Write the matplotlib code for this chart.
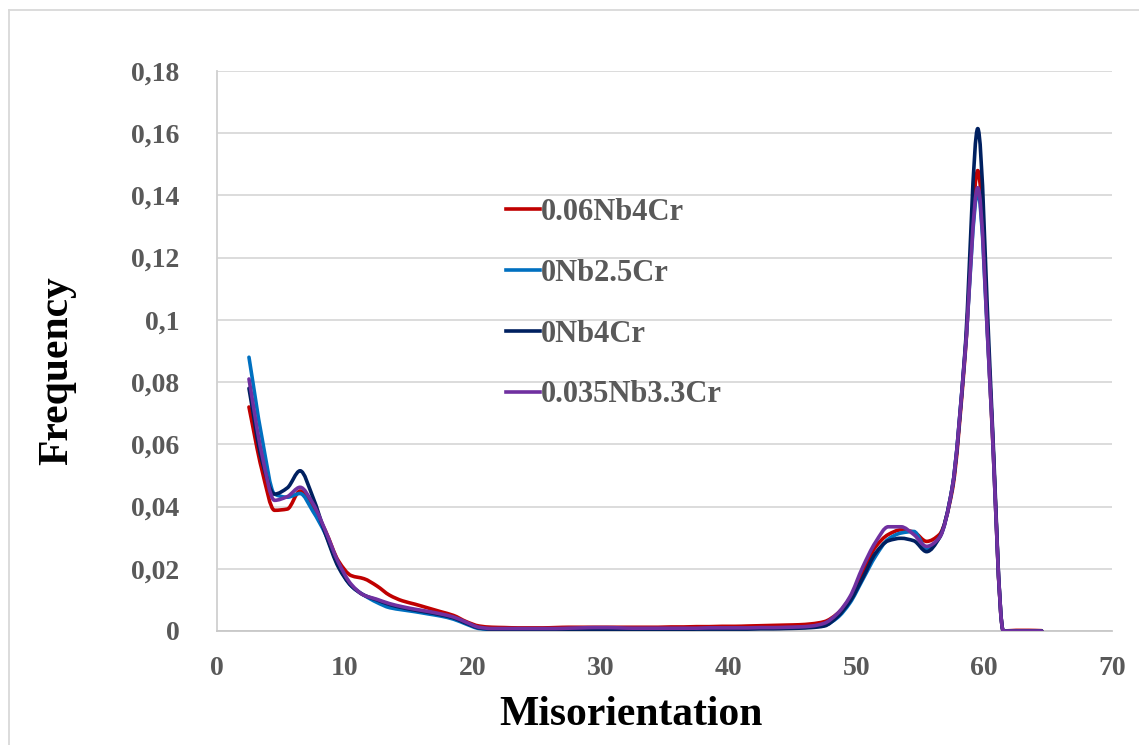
import numpy as np
import matplotlib
matplotlib.use("Agg")
import matplotlib.pyplot as plt
from matplotlib.path import Path
from matplotlib.patches import PathPatch
from matplotlib.lines import Line2D
from matplotlib.ticker import FuncFormatter, MultipleLocator

# ---------------- data ----------------
misorientation = [2.5, 3.5, 4.5, 5.5, 6.5, 7.5, 8.5, 9.5, 10.5, 11.5,
                  12.5, 13.5, 14.5, 15.5, 16.5, 17.5, 18.5, 19.5, 20.5, 21.5,
                  22.5, 23.5, 24.5, 25.5, 26.5, 27.5, 28.5, 29.5, 30.5, 31.5,
                  32.5, 33.5, 34.5, 35.5, 36.5, 37.5, 38.5, 39.5, 40.5, 41.5,
                  42.5, 43.5, 44.5, 45.5, 46.5, 47.5, 48.5, 49.5, 50.5, 51.5,
                  52.5, 53.5, 54.5, 55.5, 56.5, 57.5, 58.5, 59.5, 60.5, 61.5,
                  62.5, 63.5, 64.5]

series_names = ["0.06Nb4Cr", "0Nb2.5Cr", "0Nb4Cr", "0.035Nb3.3Cr"]

freq_006Nb4Cr = [0.072, 0.052, 0.0388, 0.0392, 0.0450, 0.0400, 0.0320, 0.0225, 0.0178, 0.0168,
                 0.0145, 0.0115, 0.0097, 0.0086, 0.0074, 0.0062, 0.0050, 0.0030, 0.0016, 0.0012,
                 0.0011, 0.0010, 0.0010, 0.0010, 0.0011, 0.0012, 0.0012, 0.0012, 0.0012, 0.0012,
                 0.0012, 0.0012, 0.0012, 0.0013, 0.0013, 0.0014, 0.0014, 0.0015, 0.0015, 0.0016,
                 0.0017, 0.0018, 0.0019, 0.0020, 0.0023, 0.0030, 0.0055, 0.0105, 0.0190, 0.0270,
                 0.0310, 0.0325, 0.0318, 0.0288, 0.0310, 0.0450, 0.0880, 0.1480, 0.0760, 0.0,
                 0.0002, 0.0002, 0.0001]

freq_0Nb25Cr = [0.088, 0.0625, 0.0440, 0.0430, 0.0442, 0.0385, 0.0310, 0.0210, 0.0145, 0.0115,
                0.0092, 0.0075, 0.0068, 0.0062, 0.0055, 0.0048, 0.0038, 0.0022, 0.0008, 0.0005,
                0.0005, 0.0005, 0.0005, 0.0006, 0.0006, 0.0006, 0.0006, 0.0007, 0.0007, 0.0007,
                0.0006, 0.0006, 0.0006, 0.0007, 0.0007, 0.0007, 0.0008, 0.0008, 0.0008, 0.0008,
                0.0009, 0.0009, 0.0010, 0.0011, 0.0013, 0.0018, 0.0042, 0.0090, 0.0165, 0.0240,
                0.0295, 0.0315, 0.0320, 0.0265, 0.0300, 0.0460, 0.0890, 0.1410, 0.0760, 0.0,
                0.0, 0.0, 0.0]

freq_0Nb4Cr = [0.078, 0.055, 0.0440, 0.0460, 0.0515, 0.0430, 0.0310, 0.0205, 0.0145, 0.0115,
               0.0100, 0.0085, 0.0075, 0.0067, 0.0060, 0.0052, 0.0042, 0.0025, 0.0010, 0.0006,
               0.0006, 0.0006, 0.0006, 0.0006, 0.0006, 0.0005, 0.0005, 0.0005, 0.0004, 0.0004,
               0.0004, 0.0004, 0.0005, 0.0005, 0.0005, 0.0006, 0.0006, 0.0006, 0.0006, 0.0006,
               0.0007, 0.0007, 0.0008, 0.0009, 0.0011, 0.0016, 0.0045, 0.0095, 0.0170, 0.0250,
               0.0290, 0.0298, 0.0290, 0.0255, 0.0300, 0.0460, 0.0900, 0.1615, 0.0800, 0.0,
               0.0, 0.0, 0.0]

freq_0035Nb33Cr = [0.081, 0.057, 0.0420, 0.0432, 0.0462, 0.0410, 0.0320, 0.0220, 0.0150, 0.0115,
                   0.0102, 0.0088, 0.0078, 0.0070, 0.0063, 0.0055, 0.0045, 0.0028, 0.0012, 0.0008,
                   0.0008, 0.0008, 0.0008, 0.0008, 0.0008, 0.0009, 0.0010, 0.0011, 0.0011, 0.0010,
                   0.0009, 0.0009, 0.0009, 0.0009, 0.0009, 0.0009, 0.0010, 0.0010, 0.0010, 0.0010,
                   0.0011, 0.0011, 0.0012, 0.0013, 0.0016, 0.0025, 0.0055, 0.0110, 0.0205, 0.0285,
                   0.0335, 0.0335, 0.0310, 0.0272, 0.0300, 0.0460, 0.0890, 0.1425, 0.0760, 0.0,
                   0.0, 0.0, 0.0]

all_series = [freq_006Nb4Cr, freq_0Nb25Cr, freq_0Nb4Cr, freq_0035Nb33Cr]
colors = ["#C00000", "#0070C0", "#002060", "#7030A0"]

# ---------------- styling ----------------
plt.rcParams["font.family"] = ["Liberation Serif", "DejaVu Serif"]
plt.rcParams["font.weight"] = "bold"

W, H = 1139, 745
fig = plt.figure(figsize=(W / 100, H / 100), dpi=100)
fig.patch.set_facecolor("white")

ax_l, ax_r, ax_t, ax_b = 217, 1112, 71, 631
ax = fig.add_axes([ax_l / W, 1 - ax_b / H, (ax_r - ax_l) / W, (ax_b - ax_t) / H])


def smooth_path(xs, ys):
    """Excel-like smoothed line drawn as cubic Bezier segments through the points."""
    xs = np.asarray(xs, float)
    ys = np.asarray(ys, float)
    n = len(xs)
    d = np.diff(ys) / np.diff(xs)
    m = np.zeros(n)
    m[0], m[-1] = d[0], d[-1]
    for i in range(1, n - 1):
        if d[i - 1] * d[i] > 0:
            m[i] = 2 * d[i - 1] * d[i] / (d[i - 1] + d[i])
    verts = [(xs[0], ys[0])]
    codes = [Path.MOVETO]
    for i in range(n - 1):
        h = xs[i + 1] - xs[i]
        verts += [(xs[i] + h / 3, ys[i] + m[i] * h / 3),
                  (xs[i + 1] - h / 3, ys[i + 1] - m[i + 1] * h / 3),
                  (xs[i + 1], ys[i + 1])]
        codes += [Path.CURVE4] * 3
    return Path(verts, codes)


for vals, col in zip(all_series, colors):
    patch = PathPatch(smooth_path(misorientation, vals), facecolor="none",
                      edgecolor=col, lw=2.6, capstyle="round", joinstyle="round",
                      transform=ax.transData, zorder=3)
    ax.add_patch(patch)

ax.set_xlim(0, 70)
ax.set_ylim(0, 0.18)
ax.xaxis.set_major_locator(MultipleLocator(10))
ax.yaxis.set_major_locator(MultipleLocator(0.02))


def ytick_fmt(v, pos):
    s = f"{round(v, 4):g}"
    return s.replace(".", ",")


ax.yaxis.set_major_formatter(FuncFormatter(ytick_fmt))
ax.grid(axis="y", color="#d9d9d9", lw=1.3, zorder=0)
ax.set_axisbelow(True)
for s in ["top", "right"]:
    ax.spines[s].set_visible(False)
ax.spines["left"].set_color("#d0d0d0")
ax.spines["bottom"].set_color("#c8c8c8")
ax.spines["left"].set_linewidth(1.3)
ax.spines["bottom"].set_linewidth(1.3)
ax.tick_params(axis="both", length=0, labelsize=20, labelcolor="#595959")
ax.tick_params(axis="y", pad=27)
ax.tick_params(axis="x", pad=18)
for lab in ax.get_xticklabels() + ax.get_yticklabels():
    lab.set_fontweight("bold")

fig.text(631 / W, 1 - 715 / H, "Misorientation", ha="center", va="center",
         fontsize=30, fontweight="bold", color="black")
fig.text(57 / W, 1 - 371 / H, "Frequency", ha="center", va="center",
         rotation=90, fontsize=30, fontweight="bold", color="black")

handles = [Line2D([], [], color=c, lw=2.6) for c in colors]
leg = ax.legend(handles, series_names, loc="upper left",
                bbox_to_anchor=(506 / W, 1 - 198 / H), bbox_transform=fig.transFigure,
                frameon=False, fontsize=22, labelspacing=1.04, handlelength=1.1,
                handletextpad=0.05, borderpad=0, borderaxespad=0)
for t in leg.get_texts():
    t.set_color("#595959")
    t.set_fontweight("bold")

# outer chart frame (left and top edges visible)
fx, fy = 8.5 / W, 1 - 9.5 / H
fig.add_artist(Line2D([fx, fx], [0, fy], transform=fig.transFigure, color="#d9d9d9", lw=1.3))
fig.add_artist(Line2D([fx, 1], [fy, fy], transform=fig.transFigure, color="#d9d9d9", lw=1.3))

fig.savefig("out.png", dpi=100)
